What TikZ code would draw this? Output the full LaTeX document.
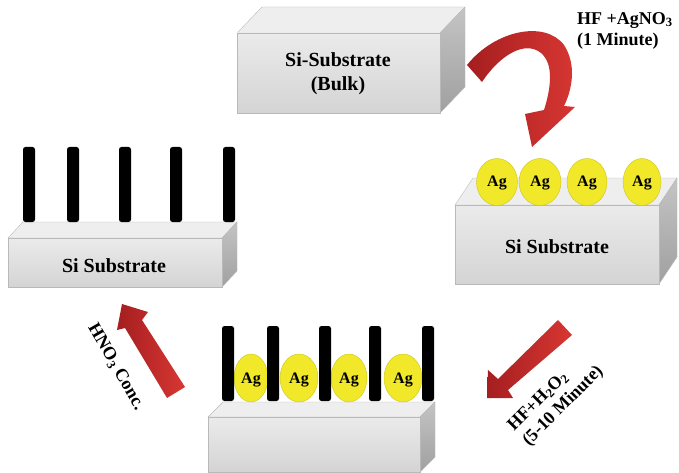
\documentclass[tikz,border=0pt]{standalone}
\usepackage{fontspec}
\setmainfont{Liberation Serif}
\usetikzlibrary{calc}

\definecolor{frontgray}{RGB}{226,226,226}
\definecolor{frontlow}{RGB}{212,212,212}
\definecolor{topgray}{RGB}{238,238,238}
\definecolor{sidedark}{RGB}{160,160,160}
\definecolor{sidelight}{RGB}{196,196,196}
\definecolor{edgegray}{RGB}{185,185,185}
\definecolor{agyellow}{RGB}{240,232,40}
\definecolor{arrowdark}{RGB}{165,30,32}
\definecolor{arrowlight}{RGB}{215,55,50}

\tikzset{
  lbl/.style={font=\bfseries\fontsize{20}{24}\selectfont, align=center, inner sep=0pt},
  aglbl/.style={font=\bfseries\fontsize{16}{18}\selectfont, inner sep=0pt},
  steplbl/.style={font=\bfseries\fontsize{18}{21}\selectfont, inner sep=0pt},
  agdot/.style={fill=agyellow, draw=agyellow!85!black, line width=0.4pt},
  wire/.style={fill=black, rounded corners=2.5pt},
  redarrow/.style={left color=arrowdark, right color=arrowlight, draw=none},
}

% slab: front face (#1,#2)--(#3,#4), depth offset (#5,#6)
\newcommand\slab[6]{%
  \fill[topgray, draw=edgegray, line width=0.4pt]
    (#1,#2) -- ({#1+#5},{#2+#6}) -- ({#3+#5},{#2+#6}) -- (#3,#2) -- cycle;
  \shade[top color=sidelight, bottom color=sidedark, draw=edgegray, line width=0.4pt]
    (#3,#2) -- ({#3+#5},{#2+#6}) -- ({#3+#5},{#4+#6}) -- (#3,#4) -- cycle;
  \shade[top color=frontgray!70!white, bottom color=frontlow, draw=edgegray, line width=0.4pt]
    (#1,#2) rectangle (#3,#4);
}

\begin{document}
\begin{tikzpicture}[x=1pt,y=-1pt]
\useasboundingbox (0,0) rectangle (679,473);

% bulk silicon
\slab{237}{33}{440}{113}{25}{-26}
\node[lbl] (bulk) at (338,74) {Si-Substrate\\(Bulk)};

% silicon decorated with silver particles
\slab{455}{205}{659}{284}{18}{-27}
\foreach \n/\x/\r in {1/497/20.5,2/540/21,3/587/20,4/642/19}{
  \path[agdot] (\x,182) ellipse ({\r} and 23.5);
  \node[aglbl] (agA\n) at (\x,183) {Ag};
}
\node[lbl] (agsub) at (557,247) {Si Substrate};

% silicon with nanowires and silver
\slab{208}{417}{420}{472}{15}{-15}
\foreach \n/\x/\r in {1/251/17,2/299/19,3/349/18,4/403/19}{
  \path[agdot] (\x,378) ellipse ({\r} and 24);
  \node[aglbl] (agB\n) at (\x,380) {Ag};
}
\foreach \x in {228,273,325,375,428}{
  \path[wire] ({\x-6},326) rectangle ({\x+6},401);
}

% silicon nanowires after silver removal
\slab{8}{238}{222}{287}{15}{-16}
\foreach \x in {29,73,125,176,229}{
  \path[wire] ({\x-6},147) rectangle ({\x+6},222);
}
\node[lbl] (nwsub) at (114,266) {Si Substrate};

% curved arrow: bulk -> silver deposition
\shade[redarrow]
  (467,65) .. controls (495,30) and (545,20) .. (564,45)
  .. controls (577,65) and (572,90) .. (564,106)
  -- (575,107) -- (532,147) -- (525,114) -- (544,110)
  .. controls (551,88) and (554,64) .. (541,53)
  .. controls (525,40) and (500,55) .. (482,82) -- cycle;
\node[steplbl, align=left, anchor=north west] (step1) at (577,12)
  {HF +AgNO\textsubscript{3}\\(1 Minute)};

% straight arrow: silver deposition -> etching
\shade[redarrow]
  (487,398) -- (488,370) -- (498,379) -- (558,320) -- (572,335)
  -- (508,390) -- (513,398) -- cycle;
\node[steplbl, align=left, rotate=45] (step2) at (556,399)
  {HF+H\textsubscript{2}O\textsubscript{2}\\(5-10 Minute)};

% straight arrow: etching -> silver removal
\shade[redarrow]
  (122,304) -- (148,312) -- (142,320) -- (185,387) -- (167,398)
  -- (125,328) -- (117,330) -- cycle;
\node[steplbl, rotate=-60] (step3) at (116,367) {HNO\textsubscript{3} Conc.};

\end{tikzpicture}
\end{document}
